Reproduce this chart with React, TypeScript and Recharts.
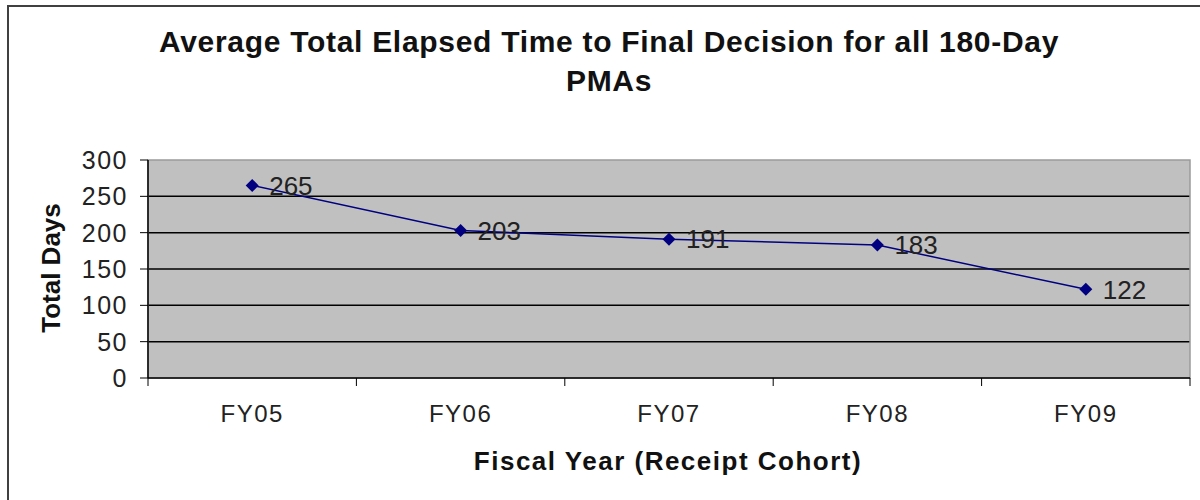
import React from "react";
import {
  LineChart,
  Line,
  XAxis,
  YAxis,
  CartesianGrid,
  LabelList,
  ReferenceArea,
} from "recharts";

const years = ["FY05", "FY06", "FY07", "FY08", "FY09"];
const totalDays = [265, 203, 191, 183, 122];
const yTicks = [0, 50, 100, 150, 200, 250, 300];

const FONT = '"Liberation Sans", Arial, sans-serif';
const PLOT_LEFT = 148;
const PLOT_RIGHT = 1190;
const BAND = (PLOT_RIGHT - PLOT_LEFT) / years.length;

const data = years.map((year, i) => ({ year, days: totalDays[i] }));

const Diamond = (props: any) => {
  const { cx, cy } = props;
  if (cx == null || cy == null) return null;
  const r = 6.5;
  return (
    <polygon
      points={`${cx},${cy - r} ${cx + r},${cy} ${cx},${cy + r} ${cx - r},${cy}`}
      fill="#000080"
    />
  );
};

const XTick = (props: any) => {
  const { x, y, payload, index } = props;
  const last = index === years.length - 1;
  return (
    <g>
      <line x1={x - BAND / 2} x2={x - BAND / 2} y1={y} y2={y + 8} stroke="#000" />
      {last && <line x1={x + BAND / 2} x2={x + BAND / 2} y1={y} y2={y + 8} stroke="#000" />}
      <text
        x={x}
        y={y + 44}
        textAnchor="middle"
        fontSize={24}
        letterSpacing={1.5}
        fontFamily={FONT}
        fill="#222"
      >
        {payload.value}
      </text>
    </g>
  );
};

export default function App() {
  return (
    <div style={{ position: "absolute", left: 0, top: 0, width: 1200, height: 500, overflow: "hidden", background: "#fff" }}>
      <div
        style={{
          position: "absolute",
          left: 7,
          top: 5,
          width: 1220,
          height: 540,
          border: "2px solid #404040",
        }}
      />
      <div style={{ position: "absolute", left: 0, top: 0 }}>
        <LineChart
          width={1200}
          height={500}
          data={data}
          margin={{ top: 160, right: 1200 - PLOT_RIGHT, bottom: 82, left: 48 }}
        >
          <CartesianGrid
            vertical={false}
            horizontalValues={[50, 100, 150, 200, 250]}
            stroke="#000"
            strokeWidth={1.5}
            fill="#c0c0c0"
            fillOpacity={1}
          />
          <ReferenceArea
            x1="FY05"
            x2="FY09"
            y1={0}
            y2={300}
            fill="none"
            stroke="#9a9a9a"
            strokeWidth={1.5}
          />
          <XAxis
            dataKey="year"
            scale="band"
            height={40}
            axisLine={{ stroke: "#000", strokeWidth: 1.5 }}
            tickLine={false}
            tickSize={0}
            tickMargin={0}
            tick={<XTick />}
            interval={0}
          />
          <YAxis
            width={100}
            domain={[0, 300]}
            ticks={yTicks}
            interval={0}
            axisLine={{ stroke: "#000", strokeWidth: 1.5 }}
            tickLine={{ stroke: "#000" }}
            tickSize={8}
            tickMargin={12}
            tick={{ fontSize: 25, fill: "#222", fontFamily: FONT, letterSpacing: 1.5 }}
          />
          <Line
            type="linear"
            dataKey="days"
            stroke="#000080"
            strokeWidth={1.5}
            dot={<Diamond />}
            activeDot={false}
            isAnimationActive={false}
          >
            <LabelList
              dataKey="days"
              position="right"
              offset={17}
              style={{ fontSize: 26, fill: "#222", fontFamily: FONT }}
            />
          </Line>
        </LineChart>
      </div>
      <svg
        width={1200}
        height={500}
        style={{ position: "absolute", left: 0, top: 0, pointerEvents: "none" }}
        fontFamily={FONT}
        fill="#111"
      >
        <text x={609} y={52} textAnchor="middle" fontSize={30} fontWeight="bold" letterSpacing={0.7}>
          Average Total Elapsed Time to Final Decision for all 180-Day
        </text>
        <text x={609} y={91} textAnchor="middle" fontSize={30} fontWeight="bold" letterSpacing={0.7}>
          PMAs
        </text>
        <text x={668} y={470} textAnchor="middle" fontSize={26} fontWeight="bold" letterSpacing={1.5}>
          Fiscal Year (Receipt Cohort)
        </text>
        <text transform="translate(60,268) rotate(-90)" textAnchor="middle" fontSize={26} fontWeight="bold">
          Total Days
        </text>
      </svg>
    </div>
  );
}
